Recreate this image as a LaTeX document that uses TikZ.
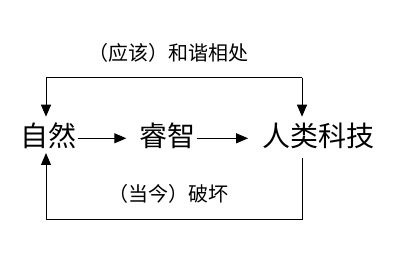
\documentclass[tikz,border=0pt]{standalone}
\usepackage{fontspec}
\setmainfont{Noto Sans CJK SC}
\usetikzlibrary{arrows.meta, positioning}

\tikzset{
  word/.style={inner sep=0pt, font=\fontsize{28}{28}\selectfont},
  note/.style={inner sep=0pt, font=\fontsize{20}{20}\selectfont},
  flow/.style={line width=1pt, -{Triangle[length=12pt, width=10pt]}}
}

\begin{document}
\begin{tikzpicture}[x=1pt, y=1pt]
      \useasboundingbox (0,0) rectangle (394,264);
      % main line
      \node[word] (ziran) at (48,128.5) {自然};
      \node[word] (ruizhi) at (167,128.5) {睿智};
      \node[word] (renlei) at (318.3,128.5) {人类科技};
      \draw[flow, shorten <=1.5pt, shorten >=12.5pt]
        ([yshift=-2.8pt]ziran.east) -- ([yshift=-2.8pt]ruizhi.west);
      \draw[flow, shorten <=1.5pt, shorten >=14pt]
        ([yshift=-2.8pt]ruizhi.east) -- ([yshift=-2.8pt]renlei.west);
      % loops
      \coordinate (tl) at (46,186.3);
      \coordinate (tr) at (302,186.3);
      \coordinate (bl) at (46,44);
      \coordinate (br) at (302,44);
      \coordinate (ztop) at (46,147.3);
      \coordinate (zbot) at (46,111);
      \coordinate (rtop) at (302,147.3);
      \coordinate (rbot) at (302,106);
      \draw[flow] (tr) -- (tl) -- (ztop);
      \draw[flow] (tr) -- (rtop);
      \draw[flow] (rbot) -- (br) -- (bl) -- (zbot);
      \node[note] (harmony) at (168.3,211.5) {（应该）和谐相处};
      \node[note] (damage) at (168.8,70) {（当今）破坏};
\end{tikzpicture}
\end{document}
